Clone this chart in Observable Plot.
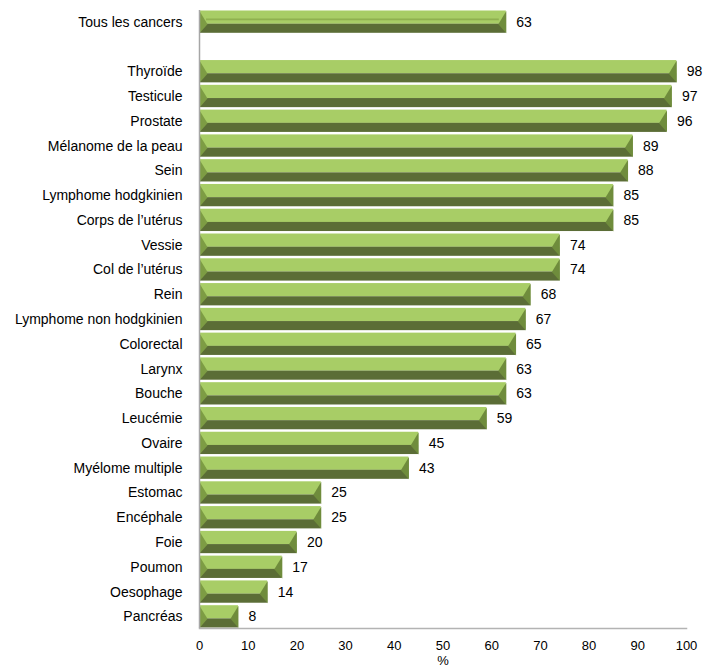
<!DOCTYPE html>
<html>
<head>
<meta charset="utf-8">
<script src="https://cdn.jsdelivr.net/npm/d3@7"></script>
<script src="https://cdn.jsdelivr.net/npm/@observablehq/plot@0.6"></script>
<style>
  body { margin: 0; background: #fff; }
  #chart { font-family: "Liberation Sans", Arial, sans-serif; }
</style>
</head>
<body>
<div id="chart"></div>
<script>
const categories = [
  "Tous les cancers",
  "Thyroïde", "Testicule", "Prostate", "Mélanome de la peau", "Sein",
  "Lymphome hodgkinien", "Corps de l’utérus", "Vessie", "Col de l’utérus", "Rein",
  "Lymphome non hodgkinien", "Colorectal", "Larynx", "Bouche", "Leucémie",
  "Ovaire", "Myélome multiple", "Estomac", "Encéphale", "Foie",
  "Poumon", "Oesophage", "Pancréas"
];
const values = [
  63,
  98, 97, 96, 89, 88,
  85, 85, 74, 74, 68,
  67, 65, 63, 63, 59,
  45, 43, 25, 25, 20,
  17, 14, 8
];
const xTicks = [0, 10, 20, 30, 40, 50, 60, 70, 80, 90, 100];
const GAP = "\u200b";

const data = categories.map((c, i) => ({ cat: c, v: values[i] }));
const total = data.slice(0, 1);
const domain = [categories[0], GAP, ...categories.slice(1)];

const LIGHT = "#a8cd66", MID = "#7d9c44", MID2 = "#6f8c3c", DARK = "#5b6d36";

// bevel end faces (shape only; position comes from the scales)
const leftFace = { draw(ctx) { ctx.moveTo(-4, -11.1); ctx.lineTo(4, 2); ctx.lineTo(-4, 11.1); ctx.closePath(); } };
const rightFace = { draw(ctx) { ctx.moveTo(4, -11.1); ctx.lineTo(-4, 2); ctx.lineTo(4, 11.1); ctx.closePath(); } };

const chart = Plot.plot({
  width: 709,
  height: 671,
  marginLeft: 199,
  marginRight: 23,
  marginTop: 10,
  marginBottom: 43,
  style: { fontFamily: "'Liberation Sans', Arial, sans-serif", fontSize: "14px", color: "#000", background: "#fff" },
  x: { domain: [0, 100] },
  y: { domain, paddingInner: 0.1, paddingOuter: 0.02, round: false },
  marks: [
    Plot.barX(data, { y: "cat", x1: 0, x2: "v", fill: LIGHT, insetBottom: 9 }),
    Plot.barX(data, { y: "cat", x1: 0, x2: "v", fill: DARK, insetTop: 13.2 }),
    Plot.barX(total, { y: "cat", x1: 0, x2: "v", fill: "#8fb150", insetLeft: 7, insetRight: 7, insetTop: 8, insetBottom: 12.5 }),
    Plot.dot(data, { y: "cat", x: 0, dx: 4, symbol: leftFace, fill: MID, stroke: "none" }),
    Plot.dot(data, { y: "cat", x: "v", dx: -4, symbol: rightFace, fill: MID2, stroke: "none" }),
    Plot.text(data, { y: "cat", x: "v", text: d => String(d.v), dx: 10, textAnchor: "start", fontSize: 14, fill: "#000" }),
    Plot.ruleX([0], { stroke: "#a6a6a6", strokeWidth: 1.5 }),
    Plot.frame({ anchor: "bottom", stroke: "#b3b3b3", strokeWidth: 1.5 }),
    Plot.axisY({ tickSize: 0, tickPadding: 17, fontSize: 14, tickFormat: d => d === GAP ? "" : d, label: null }),
    Plot.axisX({ ticks: xTicks, tickSize: 0, tickPadding: 12, fontSize: 13, label: "%", labelAnchor: "center", labelOffset: 36, labelArrow: "none" })
  ]
});
document.getElementById("chart").appendChild(chart);
</script>
</body>
</html>
